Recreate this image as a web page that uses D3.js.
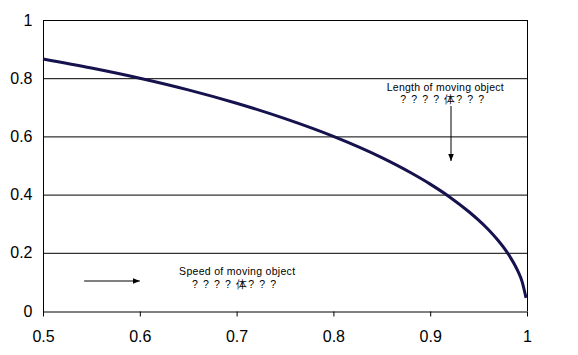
<!DOCTYPE html>
<html><head><meta charset="utf-8">
<script src="https://cdn.jsdelivr.net/npm/d3@7"></script>
<style>body{margin:0;background:#fff}svg{display:block}text{font-family:"Liberation Sans",Arial,sans-serif}</style>
</head><body>
<svg id="c" width="578" height="355"></svg>
<script>
const speed  = [0.5, 0.55, 0.6, 0.65, 0.7, 0.75, 0.8, 0.85, 0.88, 0.9, 0.92, 0.94, 0.95, 0.96, 0.97, 0.98, 0.99, 0.995, 0.999];
const length = [0.866, 0.835, 0.80, 0.76, 0.714, 0.661, 0.60, 0.527, 0.475, 0.436, 0.392, 0.341, 0.312, 0.28, 0.243, 0.199, 0.141, 0.10, 0.045];
const xTicks = [0.5, 0.6, 0.7, 0.8, 0.9, 1];
const yTicks = [0, 0.2, 0.4, 0.6, 0.8, 1];
const xTickLabels = ["0.5", "0.6", "0.7", "0.8", "0.9", "1"];
const yTickLabels = ["0", "0.2", "0.4", "0.6", "0.8", "1"];
const noteLength = ["Length of moving object", "? ? ? ? 体? ? ?"];
const noteSpeed = ["Speed of moving object", "? ? ? ? 体? ? ?"];

const svg = d3.select("#c");
const L = 43, R = 527, T = 20, B = 311;
const x = d3.scaleLinear().domain([0.5, 1]).range([L, R]);
const y = d3.scaleLinear().domain([0, 1]).range([B, T]);

// gridlines
svg.append("g").selectAll("line").data(yTicks.filter(d => d > 0)).join("line")
  .attr("x1", L).attr("x2", R).attr("y1", d => y(d) + 0.5).attr("y2", d => y(d) + 0.5)
  .attr("stroke", "#000").attr("stroke-width", 1);
// right border
svg.append("line").attr("x1", R + 0.5).attr("x2", R + 0.5).attr("y1", T).attr("y2", B)
  .attr("stroke", "#000");

// x axis
const xa = svg.append("g").attr("transform", `translate(0,${B + 0.5})`)
  .call(d3.axisBottom(x).tickValues(xTicks).tickSize(5).tickSizeOuter(0).tickFormat((d, i) => xTickLabels[i]));
xa.select(".domain").attr("stroke", "#000");
xa.selectAll("text").attr("font-size", 16).attr("fill", "#000").attr("y", 30).attr("dy", 0).attr("font-family", '"Liberation Sans",Arial,sans-serif');
xa.selectAll(".tick line").attr("stroke", "#000");

// y axis
const ya = svg.append("g").attr("transform", `translate(${L + 0.5},0)`)
  .call(d3.axisLeft(y).tickValues(yTicks).tickSize(0).tickSizeOuter(0).tickPadding(11).tickFormat((d, i) => yTickLabels[i]));
ya.select(".domain").attr("stroke", "#000");
ya.select(".domain").attr("d", `M0,${T}V${B + 5}`);
ya.selectAll("text").attr("font-size", 16).attr("fill", "#000").attr("font-family", '"Liberation Sans",Arial,sans-serif');

// curve
const pts = speed.map((s, i) => [s, length[i]]);
svg.append("path").datum(pts)
  .attr("d", d3.line().x(d => x(d[0])).y(d => y(d[1])).curve(d3.curveMonotoneX))
  .attr("fill", "none").attr("stroke", "#15124e").attr("stroke-width", 3).attr("stroke-linejoin", "round");

// arrow marker
svg.append("defs").append("marker").attr("id", "ah").attr("viewBox", "0 0 10 10")
  .attr("refX", 10).attr("refY", 5).attr("markerWidth", 7).attr("markerHeight", 7)
  .attr("markerUnits", "userSpaceOnUse").attr("orient", "auto")
  .append("path").attr("d", "M0,1L10,5L0,9Z").attr("fill", "#000");

// annotations
function note(lines, cx, y0, y1, w0) {
  svg.append("text").attr("x", cx).attr("y", y0).attr("text-anchor", "middle")
    .attr("font-size", 10.5).attr("fill", "#000").attr("textLength", w0).attr("lengthAdjust", "spacing").text(lines[0]);
  svg.append("text").attr("x", cx - 3).attr("y", y1).attr("text-anchor", "middle")
    .attr("font-size", 10.5).attr("fill", "#000").attr("textLength", 84).attr("lengthAdjust", "spacing").text(lines[1]);
}
note(noteLength, x(0.9155), 91, 103, 117);
note(noteSpeed, x(0.7005), 275, 288, 116);

svg.append("line").attr("x1", x(0.9215)).attr("x2", x(0.9215)).attr("y1", 106).attr("y2", 161)
  .attr("stroke", "#000").attr("stroke-width", 1).attr("marker-end", "url(#ah)");
svg.append("line").attr("x1", x(0.5425)).attr("x2", x(0.6))
  .attr("y1", 281).attr("y2", 281)
  .attr("stroke", "#000").attr("stroke-width", 1).attr("marker-end", "url(#ah)");
</script>
</body></html>
